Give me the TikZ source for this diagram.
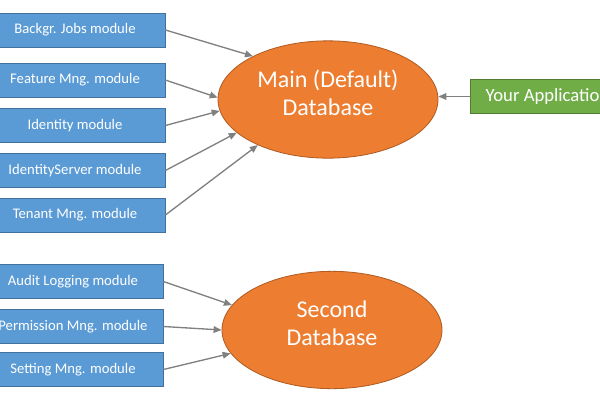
\documentclass[tikz,border=0pt]{standalone}
\usepackage{fontspec}
\setmainfont{Carlito}
\usepackage{tikz}
\usetikzlibrary{positioning,arrows.meta,shapes.geometric}

\definecolor{modblue}{HTML}{5B9BD5}
\definecolor{modblueline}{HTML}{41719C}
\definecolor{dborange}{HTML}{ED7D31}
\definecolor{dborangeline}{HTML}{AE5A21}
\definecolor{appgreen}{HTML}{70AD47}
\definecolor{appgreenline}{HTML}{507E32}
\definecolor{arrowgray}{HTML}{808080}

\begin{document}
\begin{tikzpicture}[x=0.75pt,y=-0.75pt,
  module/.style={draw=modblueline,fill=modblue,text=white,font=\fontsize{11}{13}\selectfont,
    minimum width=135pt,minimum height=25.5pt,inner sep=0pt,line width=0.6pt},
  db/.style={ellipse,draw=dborangeline,fill=dborange,text=white,align=center,
    font=\fontsize{18}{21}\selectfont,text depth=10pt,
    minimum width=165pt,minimum height=88pt,inner sep=0pt,line width=0.6pt},
  app/.style={draw=appgreenline,fill=appgreen,text=white,font=\fontsize{14}{16}\selectfont,
    minimum width=115pt,minimum height=25pt,inner sep=0pt,line width=0.6pt},
  link/.style={draw=arrowgray,line width=1pt,-{Triangle[length=6pt,width=5pt]}}]
  \clip (0,0) rectangle (600,400);

  % Databases
  \node[db] (main) at (328,99.5) {Main (Default)\\Database};
  \node[db] (second) at (332,330) {Second\\Database};

  % Application
  \node[app] (app) at (547.5,96.5) {Your Application};

  % Modules of the main database
  \node[module] (jobs) at (75,30) {Backgr. Jobs module};
  \node[module] (feature) at (75,80) {Feature Mng. module};
  \node[module] (identity) at (75,125.5) {Identity module};
  \node[module] (idserver) at (75,170.5) {IdentityServer module};
  \node[module] (tenant) at (75,215) {Tenant Mng. module};

  % Modules of the second database
  \node[module] (audit) at (73,281.5) {Audit Logging module};
  \node[module] (permission) at (73,326.5) {Permission Mng. module};
  \node[module] (setting) at (73,369.5) {Setting Mng. module};

  % Arrows
  \draw[link] (jobs.east) -- (main.150);
  \draw[link] (feature.east) -- (main.179);
  \draw[link] (identity.east) -- (main.186);
  \draw[link] (idserver.east) -- (main.200);
  \draw[link] (tenant.east) -- (main.213);
  \draw[link] (app.west) -- (main.east |- app.west);

  \draw[link] (audit.east) -- (second.166);
  \draw[link] (permission.east) -- (second.180);
  \draw[link] (setting.east) -- (second.193);
\end{tikzpicture}
\end{document}
